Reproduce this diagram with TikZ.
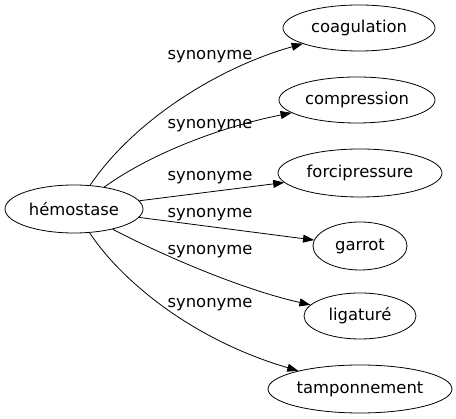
\documentclass[tikz,border=0pt]{standalone}
\usepackage{fontspec}
\setmainfont{DejaVu Sans}
\usetikzlibrary{arrows.meta, shapes.geometric}

\begin{document}
\begin{tikzpicture}[x=1pt, y=1pt, line width=0.8pt,
    every node/.style={font=\fontsize{16.4pt}{19pt}\selectfont, inner sep=0pt},
    word/.style={ellipse, draw},
    syn/.style={-{Triangle[length=11pt,width=8pt]}}]
            \useasboundingbox (0,0) rectangle (456,419);

            \node[word, minimum width=138, minimum height=48] at (74, 210)  (hemo) {hémostase};
            \node[word, minimum width=152, minimum height=46] at (359, 391) (coag) {coagulation};
            \node[word, minimum width=156, minimum height=46] at (357, 319) (comp) {compression};
            \node[word, minimum width=164, minimum height=48] at (360, 246) (forc) {forcipressure};
            \node[word, minimum width=94, minimum height=48]  at (360, 173) (garr) {garrot};
            \node[word, minimum width=112, minimum height=46] at (360, 103) (liga) {ligaturé};
            \node[word, minimum width=184, minimum height=48] at (360, 30)  (tamp) {tamponnement};

            \node at (210, 362) (l1) {synonyme};
            \node at (210, 293) (l2) {synonyme};
            \node at (210, 241) (l3) {synonyme};
            \node at (210, 204) (l4) {synonyme};
            \node at (210, 167) (l5) {synonyme};
            \node at (210, 114) (l6) {synonyme};

            \draw [syn] (hemo) .. controls (135, 300) and (220, 352) .. (coag);
            \draw [syn] (hemo) .. controls (150, 265) and (220, 292) .. (comp);
            \draw [syn] (hemo) -- (forc);
            \draw [syn] (hemo) -- (garr);
            \draw [syn] (hemo) .. controls (160, 165) and (240, 130) .. (liga);
            \draw [syn] (hemo) .. controls (120, 140) and (190, 80) .. (tamp);
        \end{tikzpicture}
\end{document}
